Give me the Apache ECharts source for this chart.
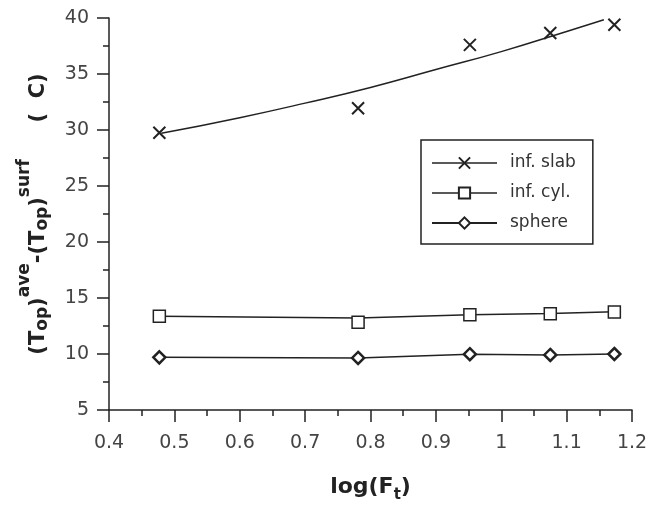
<!DOCTYPE html>
<html><head><meta charset="utf-8">
<script src="https://cdn.jsdelivr.net/npm/echarts@6/dist/echarts.min.js"></script>
<style>html,body{margin:0;padding:0;background:#fff}#c{width:649px;height:505px}</style>
</head><body><div id="c"></div>
<script>
// log(Ft) positions of measurements
const logF = [0.477, 0.781, 0.952, 1.075, 1.173];
// measured points
const slabPts = [29.76, 31.94, 37.6, 38.66, 39.4];
const cylPts = [13.38, 12.84, 13.5, 13.6, 13.75];
const spherePts = [9.70, 9.65, 9.98, 9.92, 10.0];
// fitted curves
const slabFitX = [0.48, 0.6, 0.7, 0.8, 0.9, 1.0, 1.1, 1.157];
const slabFitY = [29.7, 31.1, 32.4, 33.8, 35.4, 37.0, 38.8, 39.85];
const cylFitY = [13.38, 13.22, 13.5, 13.62, 13.78];
const seriesNames = ['inf. slab', 'inf. cyl.', 'sphere'];

const pair = (xs, ys) => xs.map((x, i) => [x, ys[i]]);
const INK = '#222';
const FONT = 'DejaVu Sans';

const chart = echarts.init(document.getElementById('c'), null, {renderer: 'canvas'});
chart.setOption({
  backgroundColor: '#fff',
  animation: false,
  textStyle: {fontFamily: FONT},
  grid: {left: 109, right: 17, top: 18, bottom: 95, containLabel: false, outerBoundsMode: 'none'},
  legend: {
    orient: 'vertical', left: 421, top: 140,
    padding: [14, 17, 12, 10],
    borderColor: INK, borderWidth: 1.5,
    itemWidth: 65, itemHeight: 14, itemGap: 12,
    textStyle: {fontFamily: FONT, fontSize: 17, color: '#333', lineHeight: 18, padding: [0, 0, 0, 8]},
    data: [
      {name: seriesNames[0], lineStyle: {opacity: 1, width: 1.5, color: INK}},
      {name: seriesNames[1], lineStyle: {opacity: 1, width: 1.5, color: INK}},
      {name: seriesNames[2]}
    ]
  },
  xAxis: {
    type: 'value', min: 0.4, max: 1.2, interval: 0.1,
    axisLine: {show: true, lineStyle: {color: INK, width: 1.5}},
    axisTick: {show: true, length: 12, lineStyle: {color: INK, width: 1.5}},
    minorTick: {show: true, splitNumber: 2, length: 6, lineStyle: {color: INK, width: 1.5}},
    splitLine: {show: false},
    axisLabel: {fontFamily: FONT, fontSize: 19, color: '#444', margin: 24,
      formatter: v => String(Math.round(v * 10) / 10)},
    name: '{b|log(F}{s|t}{b|)}',
    nameLocation: 'middle', nameGap: 62,
    nameTextStyle: {
      rich: {
        b: {fontFamily: FONT, fontSize: 22, fontWeight: 'bold', color: INK},
        s: {fontFamily: FONT, fontSize: 15, fontWeight: 'bold', color: INK, padding: [16, 0, 0, 0]}
      }
    }
  },
  yAxis: {
    type: 'value', min: 5, max: 40, interval: 5,
    axisLine: {show: true, lineStyle: {color: INK, width: 1.5}},
    axisTick: {show: true, length: 12, lineStyle: {color: INK, width: 1.5}},
    minorTick: {show: true, splitNumber: 2, length: 6, lineStyle: {color: INK, width: 1.5}},
    splitLine: {show: false},
    axisLabel: {fontFamily: FONT, fontSize: 19, color: '#444', margin: 20},
    name: '{m|(T}{sub|op}{m|)}{sup|ave}{m|-(T}{sub|op}{m|)}{sup|surf}{m|     (  C)}',
    nameLocation: 'middle', nameGap: 48, nameRotate: 90,
    nameTextStyle: {
      rich: {
        m: {fontFamily: FONT, fontSize: 21, fontWeight: 'bold', color: INK},
        sub: {fontFamily: FONT, fontSize: 17, fontWeight: 'bold', color: INK, padding: [8, 0, 0, 0]},
        sup: {fontFamily: FONT, fontSize: 17, fontWeight: 'bold', color: INK, padding: [0, 0, 28, 0]}
      }
    }
  },
  series: [
    {
      name: 'slab fit', type: 'line', smooth: true, symbol: 'none', silent: true,
      data: pair(slabFitX, slabFitY),
      lineStyle: {color: INK, width: 1.5}, z: 2
    },
    {
      name: seriesNames[0], type: 'line', data: pair(logF, slabPts),
      symbol: 'path://M0,0L10,10M10,0L0,10', symbolSize: 12,
      itemStyle: {color: 'none', borderColor: INK, borderWidth: 2},
      lineStyle: {color: INK, width: 1.5, opacity: 0}, z: 5
    },
    {
      name: 'cyl fit', type: 'line', symbol: 'none', silent: true,
      data: pair(logF, cylFitY),
      lineStyle: {color: INK, width: 1.5}, z: 2
    },
    {
      name: seriesNames[1], type: 'line', data: pair(logF, cylPts),
      symbol: 'rect', symbolSize: 12,
      itemStyle: {color: '#fff', borderColor: INK, borderWidth: 1.5},
      lineStyle: {color: INK, width: 1.5, opacity: 0}, z: 5
    },
    {
      name: seriesNames[2], type: 'line', data: pair(logF, spherePts),
      symbol: 'diamond', symbolSize: 12,
      itemStyle: {color: '#fff', borderColor: INK, borderWidth: 2.5},
      lineStyle: {color: INK, width: 1.5}, z: 5
    }
  ]
});
</script></body></html>
